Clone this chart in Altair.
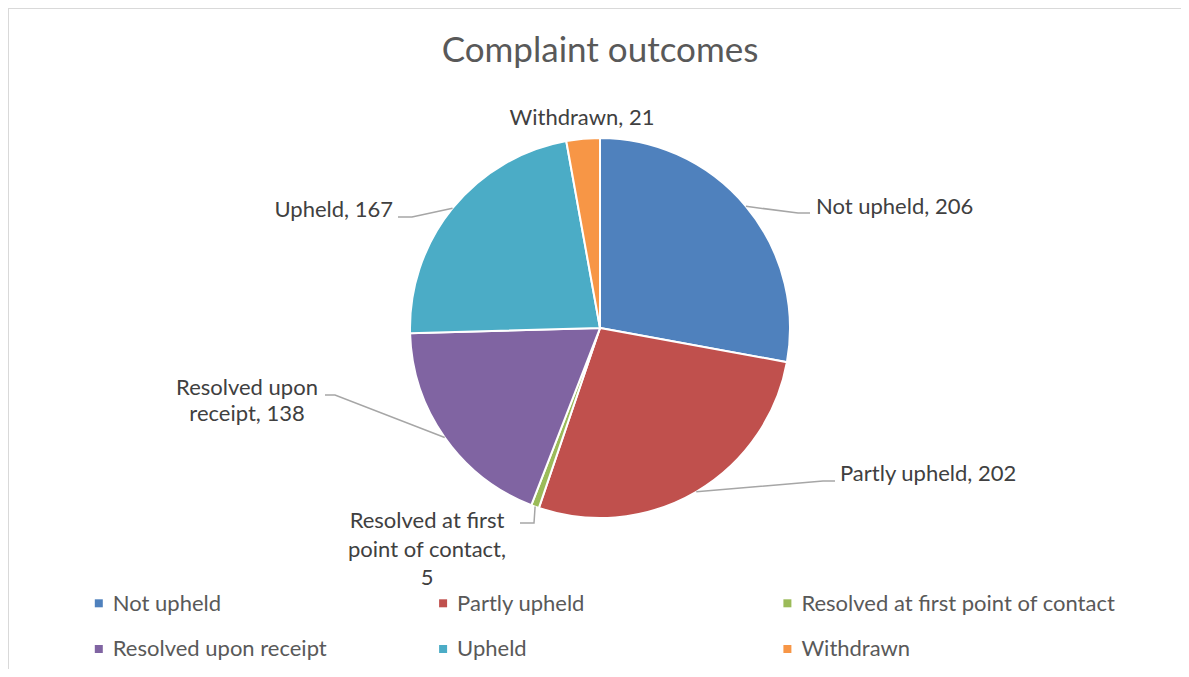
import math
import textwrap
import altair as alt
import pandas as pd

# ---------------- data ----------------
categories = [
    "Not upheld",
    "Partly upheld",
    "Resolved at first point of contact",
    "Resolved upon receipt",
    "Upheld",
    "Withdrawn",
]
counts = [206, 202, 5, 138, 167, 21]
colors = ["#4F81BD", "#C0504D", "#9BBB59", "#8064A2", "#4BACC6", "#F79646"]
chart_title = "Complaint outcomes"

# ---------------- layout (page pixels) ----------------
OFF = 8  # page margin
W, H = 1173, 661
CX, CY, R = 600 - OFF, 328 - OFF, 190
FONT = "Lato"
FS = 22
LABEL_COLOR = "#404040"
TEXT_COLOR = "#595959"

label_layout = {
    "Not upheld": dict(x=816, align="left", base=[214], wrap=40, leader=[(798, 213), (810, 213)]),
    "Partly upheld": dict(x=840, align="left", base=[481], wrap=40, leader=[(823, 481), (835, 481)]),
    "Resolved at first point of contact": dict(x=427, align="center", base=[528, 557, 585], wrap=17,
                                                leader=[(534, 523), (520, 523)]),
    "Resolved upon receipt": dict(x=247, align="center", base=[395, 421], wrap=13,
                                  leader=[(335, 395), (325, 395)]),
    "Upheld": dict(x=393, align="right", base=[217], wrap=40, leader=[(412, 217), (398, 217)]),
    "Withdrawn": dict(x=582, align="center", base=[125], wrap=40, leader=[]),
}

# ---------------- tables ----------------
df = pd.DataFrame({"category": categories, "count": counts, "idx": range(len(categories))})
total = sum(counts)

label_rows, leader_rows = [], []
cum = 0
for cat, cnt in zip(categories, counts):
    mid = (cum + cnt / 2) / total * 2 * math.pi
    cum += cnt
    lay = label_layout[cat]
    lines = textwrap.wrap(f"{cat}, {cnt}", lay["wrap"])
    for line, b in zip(lines, lay["base"]):
        label_rows.append(dict(category=cat, line=line, x=lay["x"] - OFF, y=b - OFF, align=lay["align"]))
    if lay["leader"]:
        sx = CX + R * math.sin(mid)
        sy = CY - R * math.cos(mid)
        pts = [(sx, sy)] + [(px - OFF, py - OFF) for px, py in lay["leader"]]
        for k, (px, py) in enumerate(pts):
            leader_rows.append(dict(category=cat, k=k, x=px, y=py))

labels = pd.DataFrame(label_rows)
leaders = pd.DataFrame(leader_rows)

legend_rows = []
for i, (cat, col) in enumerate(zip(categories, colors)):
    c, r = i % 3, i // 3
    mx = 98.8 + c * 344.3 - OFF
    my = 603.3 + r * 45.7 - OFF
    legend_rows.append(dict(category=cat, mx=mx, my=my, tx=mx + 14, ty=my + 7.2))
legend_df = pd.DataFrame(legend_rows)

color_scale = alt.Scale(domain=categories, range=colors)
px = lambda f: alt.X(f, type="quantitative", scale=None, axis=None)
py = lambda f: alt.Y(f, type="quantitative", scale=None, axis=None)

# ---------------- layers ----------------
one = pd.DataFrame({"a": [0]})
border_top = alt.Chart(one).mark_rule(color="#d9d9d9", strokeWidth=2).encode(
    x=alt.value(0), x2=alt.value(W), y=alt.value(0)
)
border_left = alt.Chart(one).mark_rule(color="#d9d9d9", strokeWidth=2).encode(
    x=alt.value(0), y=alt.value(0), y2=alt.value(H)
)

title = alt.Chart(pd.DataFrame({"t": [chart_title]})).mark_text(
    font=FONT, fontSize=35, color=TEXT_COLOR, align="center", baseline="alphabetic"
).encode(x=alt.value(600 - OFF), y=alt.value(62 - OFF), text="t:N")

pie = alt.Chart(df).mark_arc(outerRadius=R, stroke="white", strokeWidth=2).encode(
    theta=alt.Theta("count:Q", stack=True),
    color=alt.Color("category:N", scale=color_scale, legend=None),
    order=alt.Order("idx:Q"),
    x=alt.value(CX),
    y=alt.value(CY),
)

leader = alt.Chart(leaders).mark_line(color="#a6a6a6", strokeWidth=1.5).encode(
    x=px("x"), y=py("y"), detail="category:N", order="k:Q"
)

text_layers = []
for al in ["left", "center", "right"]:
    text_layers.append(
        alt.Chart(labels[labels["align"] == al]).mark_text(
            font=FONT, fontSize=FS, color=LABEL_COLOR, align=al, baseline="alphabetic"
        ).encode(x=px("x"), y=py("y"), text="line:N")
    )

leg_sym = alt.Chart(legend_df).mark_square(size=64, opacity=1).encode(
    x=px("mx"), y=py("my"),
    color=alt.Color("category:N", scale=color_scale, legend=None),
)
leg_txt = alt.Chart(legend_df).mark_text(
    font=FONT, fontSize=FS, color=TEXT_COLOR, align="left", baseline="alphabetic"
).encode(x=px("tx"), y=py("ty"), text="category:N")

chart = alt.layer(border_top, border_left, title, pie, leader, *text_layers, leg_sym, leg_txt).properties(
    width=W, height=H, padding=0, autosize=alt.AutoSizeParams(type="none")
).configure_view(stroke="transparent", strokeWidth=0)

chart.save("out.html", embed_options={"renderer": "svg", "actions": False})
